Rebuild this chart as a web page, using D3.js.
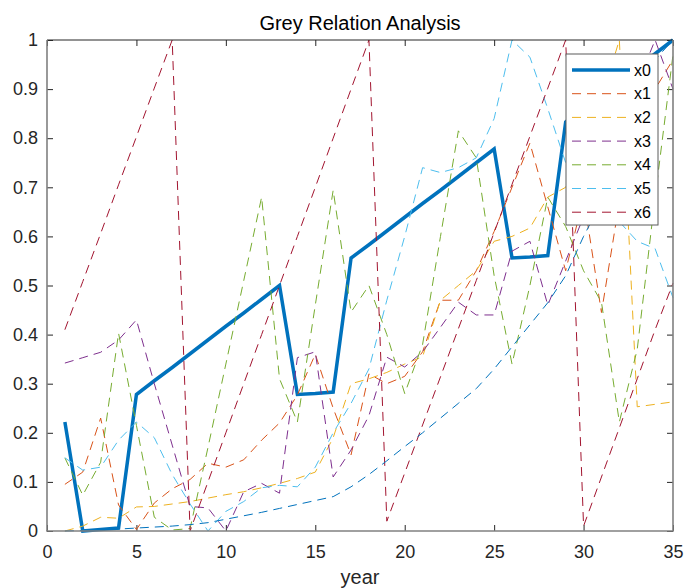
<!DOCTYPE html>
<html>
<head>
<meta charset="utf-8">
<script src="https://cdn.jsdelivr.net/npm/d3@7"></script>
<style>
  body { margin: 0; background: #fff; }
  svg { display: block; font-family: "Liberation Sans", Arial, Helvetica, sans-serif; }
  .tick text { fill: #262626; }
</style>
</head>
<body>
<div id="chart"></div>
<script>
// years on the x axis
var years = [1,2,3,4,5,6,7,8,9,10,11,12,13,14,15,16,17,18,19,20,21,22,23,24,25,26,27,28,29,30,31,32,33,34,35];

// series (normalised 0..1)
var x0 = [0.222,0.000,0.003,0.006,0.278,0.306,0.333,0.361,0.389,0.417,0.444,0.472,0.500,0.278,0.280,0.283,0.556,0.583,0.611,0.639,0.667,0.694,0.722,0.750,0.778,0.556,0.558,0.561,0.833,0.861,0.889,0.917,0.944,0.972,1.000];
var x1 = [0.095,0.120,0.230,0.053,0.003,0.057,0.086,0.105,0.138,0.130,0.145,0.185,0.220,0.277,0.360,0.250,0.155,0.320,0.300,0.315,0.365,0.470,0.470,0.530,0.610,0.700,0.790,0.660,0.530,0.680,0.445,0.670,0.800,0.900,0.960];
var x2 = [0.000,0.010,0.028,0.026,0.049,0.050,0.055,0.060,0.067,0.074,0.080,0.088,0.097,0.107,0.120,0.190,0.300,0.310,0.323,0.340,0.355,0.470,0.500,0.530,0.590,0.600,0.617,0.680,0.700,0.780,0.880,1.000,0.253,0.258,0.263];
var x3 = [0.342,0.353,0.364,0.389,0.430,0.300,0.175,0.050,0.047,0.000,0.080,0.097,0.077,0.353,0.365,0.110,0.165,0.235,0.354,0.334,0.365,0.415,0.466,0.440,0.440,0.570,0.590,0.460,0.550,0.640,0.730,0.820,0.910,1.000,0.900];
var x4 = [0.149,0.073,0.140,0.403,0.215,0.028,0.002,0.005,0.170,0.340,0.510,0.680,0.310,0.222,0.460,0.694,0.446,0.500,0.400,0.280,0.380,0.600,0.815,0.760,0.520,0.340,0.500,0.680,0.620,0.530,0.466,0.222,0.370,0.680,0.970];
var x5 = [0.149,0.124,0.130,0.185,0.222,0.190,0.115,0.055,0.000,0.040,0.060,0.088,0.093,0.090,0.130,0.200,0.260,0.330,0.470,0.600,0.740,0.730,0.740,0.760,0.840,1.000,0.965,0.860,0.750,0.700,0.660,0.630,0.590,0.575,0.475];
var x6 = [0.410,0.508,0.606,0.705,0.803,0.902,1.000,0.000,0.100,0.200,0.300,0.400,0.500,0.600,0.700,0.800,0.900,1.000,0.020,0.118,0.216,0.314,0.412,0.510,0.608,0.706,0.804,0.902,1.000,0.010,0.110,0.210,0.310,0.410,0.505];
// eighth line, drawn but not in the legend
var x7 = [0.000,0.001,0.002,0.004,0.006,0.008,0.010,0.013,0.017,0.024,0.031,0.038,0.046,0.054,0.062,0.070,0.090,0.115,0.143,0.172,0.200,0.230,0.260,0.290,0.330,0.375,0.420,0.465,0.520,0.600,0.670,0.770,0.870,0.960,1.000];

var xTicks = [0,5,10,15,20,25,30,35];
var yTicks = [0,0.1,0.2,0.3,0.4,0.5,0.6,0.7,0.8,0.9,1];
var legendNames = ["x0","x1","x2","x3","x4","x5","x6"];

var colors = ["#0072BD","#D95319","#EDB120","#7E2F8E","#77AC30","#4DBEEE","#A2142F"];

var width = 684, height = 588;
var margin = {left:47, right:11, top:40, bottom:57};
var fontFam = '"Liberation Sans", Arial, Helvetica, sans-serif';

var svg = d3.select("#chart").append("svg")
    .attr("width", width)
    .attr("height", height);

var x = d3.scaleLinear().domain([0,35]).range([margin.left, width - margin.right]);
var y = d3.scaleLinear().domain([0,1]).range([height - margin.bottom, margin.top]);

//Axes with inward ticks on all four sides
var axisG = svg.append("g");

function styleAxis(g){
    g.select(".domain").remove();
    g.attr("font-size", 18).attr("font-family", fontFam);
    g.selectAll(".tick line").attr("stroke", "#262626");
}

axisG.append("g")
    .attr("transform", "translate(0," + y(0) + ")")
    .call(d3.axisBottom(x).tickValues(xTicks).tickSizeInner(-6).tickSizeOuter(0).tickPadding(14).tickFormat(d3.format("d")))
    .call(styleAxis);

axisG.append("g")
    .attr("transform", "translate(" + x(0) + ",0)")
    .call(d3.axisLeft(y).tickValues(yTicks).tickSizeInner(-6).tickSizeOuter(0).tickPadding(9).tickFormat(d => d3.format("~g")(d)))
    .call(styleAxis);

axisG.append("g")
    .attr("transform", "translate(0," + y(1) + ")")
    .call(d3.axisTop(x).tickValues(xTicks).tickSizeInner(-6).tickSizeOuter(0).tickFormat(""))
    .call(styleAxis);

axisG.append("g")
    .attr("transform", "translate(" + x(35) + ",0)")
    .call(d3.axisRight(y).tickValues(yTicks).tickSizeInner(-6).tickSizeOuter(0).tickFormat(""))
    .call(styleAxis);

//Lines
var line = d3.line()
    .x((d,i) => x(years[i]))
    .y(d => y(d));

var plotG = svg.append("g");

plotG.append("path")
    .datum(x0)
    .attr("fill","none")
    .attr("stroke", colors[0])
    .attr("stroke-width", 3.5)
    .attr("stroke-linejoin","miter")
    .attr("d", line);

[x1,x2,x3,x4,x5,x6].forEach((s,i) => {
    plotG.append("path")
        .datum(s)
        .attr("fill","none")
        .attr("stroke", colors[i+1])
        .attr("stroke-width", 1)
        .attr("stroke-dasharray", "9,6")
        .attr("d", line);
});

plotG.append("path")
    .datum(x7)
    .attr("fill","none")
    .attr("stroke", colors[0])
    .attr("stroke-width", 1)
    .attr("stroke-dasharray", "9,6")
    .attr("d", line);

//Box
svg.append("line").attr("x1", x(0)).attr("x2", x(35)).attr("y1", y(1)).attr("y2", y(1)).attr("stroke","#262626").attr("stroke-width",1);
svg.append("line").attr("x1", x(0)).attr("x2", x(0)).attr("y1", y(1)).attr("y2", y(0)).attr("stroke","#808080").attr("stroke-width",1.6);
svg.append("line").attr("x1", x(35)).attr("x2", x(35)).attr("y1", y(1)).attr("y2", y(0)).attr("stroke","#808080").attr("stroke-width",1.6);
svg.append("line").attr("x1", x(0)-0.8).attr("x2", x(35)+0.8).attr("y1", y(0)).attr("y2", y(0)).attr("stroke","#808080").attr("stroke-width",1.6);

//Title and label
svg.append("text")
    .attr("x", (x(0) + x(35)) / 2)
    .attr("y", 30)
    .attr("text-anchor","middle")
    .attr("font-size", 20)
    .attr("fill", "#000")
    .text("Grey Relation Analysis");

svg.append("text")
    .attr("x", (x(0) + x(35)) / 2)
    .attr("y", 584)
    .attr("text-anchor","middle")
    .attr("font-size", 20)
    .attr("fill", "#262626")
    .text("year");

//Legend
var lg = svg.append("g").attr("transform", "translate(566,54)");
lg.append("rect")
    .attr("width", 92).attr("height", 171)
    .attr("fill","#fff")
    .attr("stroke","#5a5a5a")
    .attr("stroke-width", 1);

legendNames.forEach((name,i) => {
    var cy = 16 + i * 23.7;
    lg.append("line")
        .attr("x1", 6).attr("x2", 64)
        .attr("y1", cy).attr("y2", cy)
        .attr("stroke", colors[i])
        .attr("stroke-width", i == 0 ? 3.5 : 1)
        .attr("stroke-dasharray", i == 0 ? null : "9,6");
    lg.append("text")
        .attr("x", 68).attr("y", cy)
        .attr("dy", "0.35em")
        .attr("font-size", 16)
        .attr("fill", "#000")
        .text(name);
});
</script>
</body>
</html>
